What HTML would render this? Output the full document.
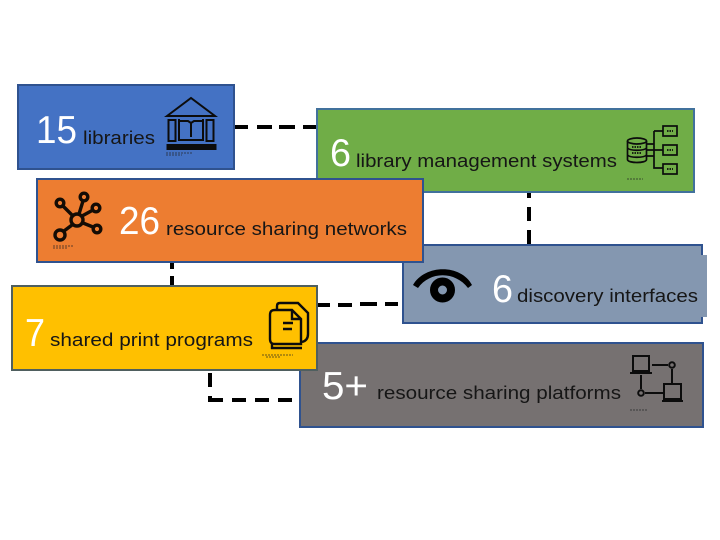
<!DOCTYPE html>
<html>
<head>
<meta charset="utf-8">
<style>
html,body{margin:0;padding:0;background:#fff;width:720px;height:540px;overflow:hidden}
svg{display:block;filter:blur(0.35px)}
text{font-family:"Liberation Sans",sans-serif}
.n{fill:#fff;font-size:39px}
.l{fill:#161616;font-size:18px}
.i{fill:none;stroke:#0c0c0c;stroke-width:2}
.d{fill:none;stroke:#000;stroke-width:4}
.t{stroke:#222;stroke-width:1.200;stroke-dasharray:2 1;opacity:.55;fill:none}
</style>
</head>
<body>
<svg width="720" height="540" viewBox="0 0 720 540" xmlns="http://www.w3.org/2000/svg">
<!-- connectors -->
<path class="d" d="M234 127H248M257 127H272M279 127H295M303 127H317"/>
<path class="d" d="M529 193V198M529 207V221M529 230V245"/>
<path class="d" d="M172 263V269M172 276V286"/>
<path class="d" d="M318 305H330M338 305H352M360 304H377M385 304H398"/>
<path class="d" d="M210 373V387M208 400H223M232 400H246M255 400H269M278 400H292M210 396V400"/>

<!-- blue -->
<rect x="18" y="85" width="216" height="84" fill="#4472C4" stroke="#2F528F" stroke-width="2"/>
<text class="n" x="36" y="143" textLength="41" lengthAdjust="spacingAndGlyphs">15</text>
<text class="l" x="83" y="144" textLength="72" lengthAdjust="spacingAndGlyphs">libraries</text>
<g class="i">
<path d="M167 116L191 98L215 116Z"/>
<rect x="168.500" y="120" width="7" height="21"/>
<rect x="206.500" y="120" width="7" height="21"/>
<path d="M179 119V140H203V119M179 121H188L191 123L194 121H203M191 123V137"/>
<rect x="167.500" y="145" width="48" height="4" fill="#0c0c0c"/>
</g>
<path class="t" d="M166 153H192M166 155H182"/>

<!-- green -->
<rect x="317" y="109" width="377" height="83" fill="#70AD47" stroke="#41719C" stroke-width="2"/>
<text class="n" x="330" y="166" textLength="21" lengthAdjust="spacingAndGlyphs">6</text>
<text class="l" x="356" y="167" textLength="261" lengthAdjust="spacingAndGlyphs">library management systems</text>
<g class="i" style="stroke-width:1.700">
<ellipse cx="637" cy="141" rx="9.500" ry="3"/>
<path d="M627.500 141V159.500C627.500 163.500 646.500 163.500 646.500 159.500V141M627.500 148C630 151 644 151 646.500 148M627.500 155C630 158 644 158 646.500 155"/>
<path d="M647 144H654M647 150H663M647 156H654M654 131V168H663M654 131H663"/>
<rect x="663" y="126" width="14" height="10"/>
<rect x="663" y="145" width="14" height="10"/>
<rect x="663" y="164" width="14" height="10"/>
<path d="M667 131h6M667 150h6M667 169h6M632 147h10M632 153h10" stroke-dasharray="1.500 1"/>
</g>
<path class="t" d="M627 179H643"/>

<!-- grey-blue -->
<rect x="403" y="245" width="299" height="78" fill="#8497B0" stroke="#2F528F" stroke-width="2"/>
<rect x="700" y="255" width="7" height="62" fill="#8497B0"/>
<text class="n" x="492" y="302" textLength="21" lengthAdjust="spacingAndGlyphs">6</text>
<text class="l" x="517" y="302" textLength="181" lengthAdjust="spacingAndGlyphs">discovery interfaces</text>
<path d="M413 285C425 264 461 264 472 285L468 288C455 271 430 271 418 288Z" fill="#000"/>
<circle cx="442.500" cy="290" r="8.500" fill="none" stroke="#000" stroke-width="8"/>

<!-- grey -->
<rect x="300" y="343" width="403" height="84" fill="#767171" stroke="#2F528F" stroke-width="2"/>
<text class="n" x="322" y="399" textLength="46" lengthAdjust="spacingAndGlyphs">5+</text>
<text class="l" x="377" y="399" textLength="244" lengthAdjust="spacingAndGlyphs">resource sharing platforms</text>
<g class="i">
<rect x="633" y="356" width="16" height="15"/>
<path d="M630 373H652M652 365H668M641 375V389M645 393H663M672 369V383"/>
<circle cx="672" cy="365" r="2.800"/>
<circle cx="641" cy="393" r="2.800"/>
<rect x="664" y="384" width="17" height="15"/>
<path d="M662 401H683"/>
</g>
<path class="t" d="M630 410H648"/>

<!-- orange -->
<rect x="37" y="179" width="386" height="83" fill="#ED7D31" stroke="#2F528F" stroke-width="2"/>
<text class="n" x="119" y="234" textLength="41" lengthAdjust="spacingAndGlyphs">26</text>
<text class="l" x="166" y="235" textLength="241" lengthAdjust="spacingAndGlyphs">resource sharing networks</text>
<g fill="none" stroke="#140c05" stroke-width="3.400">
<circle cx="77" cy="220" r="6"/>
<circle cx="60" cy="203" r="3.800"/>
<circle cx="84" cy="197" r="3.800"/>
<circle cx="96" cy="208" r="3.800"/>
<circle cx="97" cy="229" r="3.800"/>
<circle cx="60" cy="235" r="5"/>
<path d="M72 215L63 206M79 214L83 201M82 216L93 210M83 223L93 227M72 225L64 231"/>
</g>
<path class="t" d="M53 246H74M53 248H68"/>

<!-- yellow -->
<rect x="12" y="286" width="305" height="84" fill="#FFC000" stroke="#4F5F5F" stroke-width="2"/>
<text class="n" x="25" y="346" textLength="20" lengthAdjust="spacingAndGlyphs">7</text>
<text class="l" x="50" y="346" textLength="203" lengthAdjust="spacingAndGlyphs">shared print programs</text>
<g class="i" style="stroke-width:2.400">
<path d="M277 309V306C277 304 278 303 280 303H298L308 313V334C308 338 306 341 302 342"/>
<path d="M301 344H275C271 344 270 342 270 339V315C270 311 272 310 275 310H292L301 319V344Z"/>
<path d="M292 310V319H301M272 343V348H302"/>
<path d="M283 323H293M283 329H292"/>
</g>
<path class="t" d="M262 355H293M266 357H280"/>
</svg>
</body>
</html>
